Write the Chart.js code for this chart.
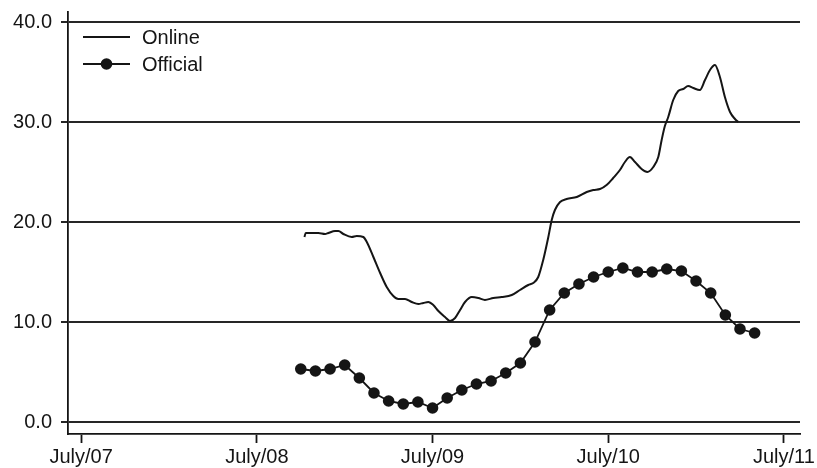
<!DOCTYPE html>
<html>
<head>
<meta charset="utf-8">
<title>Online vs Official</title>
<script src="https://cdn.jsdelivr.net/npm/chart.js@4.4.1/dist/chart.umd.min.js"></script>
<style>
  html, body { margin: 0; padding: 0; background: #ffffff; }
  canvas { display: block; }
</style>
</head>
<body>
<canvas id="chart" width="817" height="468"></canvas>
<script>
// Time axis: months counted from July 2007 (0 = July/07, 12 = July/08, ...)
const xTickMonths = [0, 12, 24, 36, 48];
const xTickLabels = ['July/07', 'July/08', 'July/09', 'July/10', 'July/11'];
const yTickValues = [0, 10, 20, 30, 40];

// Online index (high-frequency series)
const onlineMonths = [
  15.25, 15.34, 15.75, 16.20, 16.66, 16.88, 17.34, 17.57, 17.91, 18.48,
  18.82, 19.27, 19.51, 19.96, 20.42, 20.87, 21.32, 21.66, 22.12, 22.58,
  23.03, 23.37, 23.71, 24.05, 24.40, 24.85, 25.19, 25.54, 25.88, 26.22,
  26.68, 27.13, 27.58, 28.15, 28.72, 29.41, 29.97, 30.54, 30.88, 31.22,
  31.56, 31.91, 32.14, 32.36, 32.71, 33.16, 33.85, 34.53, 34.98, 35.44,
  35.89, 36.34, 36.80, 37.14, 37.48, 37.83, 38.28, 38.67, 39.08, 39.42,
  39.65, 39.87, 40.10, 40.44, 40.78, 41.12, 41.46, 41.81, 42.26, 42.61,
  42.95, 43.29, 43.63, 43.97, 44.32, 44.66, 44.88
];
const onlineValues = [
  18.5, 18.9, 18.9, 18.9, 18.8, 18.9, 19.1, 19.1, 18.8, 18.5,
  18.6, 18.5, 18.0, 16.5, 14.9, 13.5, 12.6, 12.3, 12.3, 12.0,
  11.8, 11.9, 12.0, 11.7, 11.1, 10.5, 10.1, 10.4, 11.2, 12.0,
  12.5, 12.4, 12.2, 12.4, 12.5, 12.7, 13.2, 13.7, 13.9, 14.5,
  16.2, 18.5, 20.2, 21.2, 22.0, 22.3, 22.5, 23.0, 23.2, 23.3,
  23.7, 24.4, 25.2, 26.0, 26.5, 26.0, 25.3, 25.0, 25.5, 26.5,
  28.2, 29.6, 30.5, 32.2, 33.1, 33.3, 33.6, 33.4, 33.2, 34.2,
  35.2, 35.7, 34.5, 32.5, 31.0, 30.3, 30.0
];

// Official index (monthly, October 2008 - May 2011)
const officialMonths = [
  15, 16, 17, 18, 19, 20, 21, 22, 23, 24,
  25, 26, 27, 28, 29, 30, 31, 32, 33, 34,
  35, 36, 37, 38, 39, 40, 41, 42, 43, 44,
  45, 46
];
const officialValues = [
  5.3, 5.1, 5.3, 5.7, 4.4, 2.9, 2.1, 1.8, 2.0, 1.4,
  2.4, 3.2, 3.8, 4.1, 4.9, 5.9, 8.0, 11.2, 12.9, 13.8,
  14.5, 15.0, 15.4, 15.0, 15.0, 15.3, 15.1, 14.1, 12.9, 10.7,
  9.3, 8.9
];

const INK = '#151515';
const GRID = '#262626';
const FONT = '"Liberation Sans", Arial, Helvetica, sans-serif';

const toPoints = (xs, ys) => xs.map((x, i) => ({ x: x, y: ys[i] }));

// Legend drawn inside the plot, top-left, with line / line+marker samples
const insideLegend = {
  id: 'insideLegend',
  afterDraw(chart) {
    const ctx = chart.ctx;
    const x0 = 83, x1 = 130, textX = 142;
    const rows = [37, 64];
    ctx.save();
    ctx.font = '20px ' + FONT;
    ctx.textBaseline = 'middle';
    ctx.textAlign = 'left';
    chart.data.datasets.forEach((ds, i) => {
      const y = rows[i];
      ctx.strokeStyle = ds.borderColor;
      ctx.lineWidth = 1.8;
      ctx.beginPath();
      ctx.moveTo(x0, y);
      ctx.lineTo(x1, y);
      ctx.stroke();
      if (ds.pointRadius > 0) {
        ctx.fillStyle = ds.pointBackgroundColor;
        ctx.beginPath();
        ctx.arc((x0 + x1) / 2, y, ds.pointRadius, 0, Math.PI * 2);
        ctx.fill();
      }
      ctx.fillStyle = INK;
      ctx.fillText(ds.label, textX, y + 1);
    });
    ctx.restore();
  }
};

new Chart(document.getElementById('chart'), {
  type: 'line',
  data: {
    datasets: [
      {
        label: 'Online',
        data: toPoints(onlineMonths, onlineValues),
        borderColor: INK,
        borderWidth: 2,
        pointRadius: 0,
        cubicInterpolationMode: 'monotone',
        fill: false
      },
      {
        label: 'Official',
        data: toPoints(officialMonths, officialValues),
        borderColor: INK,
        borderWidth: 1.8,
        pointRadius: 5.8,
        pointBackgroundColor: INK,
        pointBorderColor: INK,
        pointBorderWidth: 0,
        tension: 0,
        fill: false
      }
    ]
  },
  options: {
    responsive: false,
    animation: false,
    devicePixelRatio: 1,
    layout: { padding: { left: 0, right: 17, top: 12, bottom: 0 } },
    plugins: {
      legend: { display: false },
      tooltip: { enabled: false }
    },
    scales: {
      x: {
        type: 'linear',
        min: -0.9,
        max: 49.1,
        afterBuildTicks(scale) {
          scale.ticks = xTickMonths.map(v => ({ value: v }));
        },
        // fixed band below the plot for ticks and month labels
        afterFit(scale) {
          scale.height = 34;
          scale.paddingLeft = 0;
          scale.paddingRight = 0;
        },
        ticks: {
          color: INK,
          font: { family: FONT, size: 20, lineHeight: 0.64 },
          padding: 7.6,
          maxRotation: 0,
          autoSkip: false,
          callback(value) {
            const i = xTickMonths.indexOf(value);
            return i >= 0 ? xTickLabels[i] : '';
          }
        },
        grid: {
          drawOnChartArea: false,
          drawTicks: true,
          tickLength: 9,
          tickWidth: 1.8,
          tickColor: INK
        },
        border: { display: true, color: INK, width: 1.8 }
      },
      y: {
        type: 'linear',
        min: -1.2,
        max: 41,
        afterBuildTicks(scale) {
          scale.ticks = yTickValues.map(v => ({ value: v }));
        },
        // fixed band left of the plot for value labels
        afterFit(scale) {
          scale.width = 68;
          scale.paddingTop = 0;
          scale.paddingBottom = 0;
        },
        ticks: {
          color: INK,
          font: { family: FONT, size: 20, lineHeight: 1.0 },
          padding: 9,
          callback(value) { return Number(value).toFixed(1); }
        },
        grid: {
          color: GRID,
          lineWidth: 2,
          drawTicks: true,
          tickLength: 7,
          tickColor: GRID
        },
        border: { display: true, color: INK, width: 1.8 }
      }
    }
  },
  plugins: [insideLegend]
});
</script>
</body>
</html>
